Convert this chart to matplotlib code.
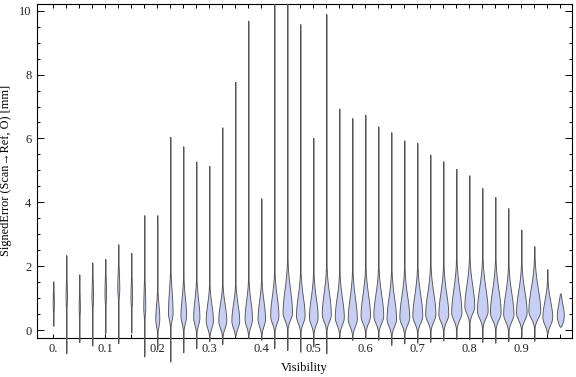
import numpy as np
import matplotlib
matplotlib.use("Agg")
import matplotlib.pyplot as plt

# violin positions (Visibility bins)
positions = np.arange(40) * 0.025

# values: lowest / highest point of each violin
lows = [0.13, -0.73, -0.38, -0.49, -0.10, -0.41, -0.08, -0.83, -0.60, -0.99,
        -0.70, -0.57, -0.35, -0.44, -0.18, -0.26, -0.31, -0.57, -0.63, -0.68,
        -0.52, -0.73, -0.21, -0.31, -0.26, -0.31, -0.47, -0.42, -0.40, -0.37,
        -0.33, -0.29, -0.29, -0.37, -0.40, -0.35, -0.21, -0.34, -0.13, 0.10]
highs = [1.53, 2.35, 1.75, 2.12, 2.23, 2.69, 2.42, 3.60, 3.60, 6.05,
         5.76, 5.28, 5.14, 6.35, 7.78, 9.69, 4.13, 10.21, 10.21, 9.58,
         6.02, 9.90, 6.94, 6.64, 6.75, 6.38, 6.20, 5.94, 5.87, 5.50,
         5.29, 5.05, 4.85, 4.45, 4.17, 3.82, 3.15, 2.63, 1.91, 1.15]
# where each violin is widest, how wide (px) and how far the bulge reaches up
modes = [0.80, 1.00, 0.70, 1.00, 1.10, 1.30, 1.00, 0.70, 0.35, 0.55,
         0.45, 0.40, 0.30, 0.30, 0.30, 0.35, 0.35, 0.45, 0.55, 0.45,
         0.40, 0.50, 0.40, 0.35, 0.45, 0.45, 0.35, 0.40, 0.45, 0.50,
         0.50, 0.55, 0.75, 0.60, 0.55, 0.50, 0.55, 0.60, 0.40, 0.45]
widths = [0.6, 0.7, 0.6, 0.8, 0.8, 1.0, 0.8, 1.0, 2.0, 2.3,
          2.8, 3.1, 3.6, 4.0, 3.9, 3.7, 3.7, 4.1, 4.7, 4.3,
          4.3, 4.5, 4.5, 4.5, 4.7, 4.9, 4.7, 4.9, 4.9, 5.1,
          4.9, 5.1, 4.9, 5.3, 5.3, 5.1, 5.3, 5.9, 4.9, 3.5]
spreads = [0.40, 0.50, 0.40, 0.50, 0.50, 0.50, 0.50, 0.60, 0.45, 0.65,
           0.55, 0.55, 0.50, 0.50, 0.50, 0.55, 0.55, 0.60, 0.70, 0.60,
           0.60, 0.65, 0.60, 0.65, 0.65, 0.65, 0.65, 0.65, 0.65, 0.65,
           0.65, 0.70, 0.65, 0.70, 0.70, 0.65, 0.65, 0.70, 0.50, 0.35]

xtick_vals = [0.0, 0.1, 0.2, 0.3, 0.4, 0.5, 0.6, 0.7, 0.8, 0.9]
xtick_labels = ["0.", "0.1", "0.2", "0.3", "0.4", "0.5", "0.6", "0.7", "0.8", "0.9"]

plt.rcParams['font.family'] = ['Liberation Serif', 'DejaVu Serif']

fig = plt.figure(figsize=(5.76, 3.77), dpi=100)
ax = fig.add_axes([37 / 576, 1 - 337.7 / 377, 535 / 576, 333.7 / 377])

xmin, xmax = -0.0313, 0.9975
px = (xmax - xmin) / 535.0  # data units per pixel horizontally

for p, lo, hi, c, hw, su in zip(positions, lows, highs, modes, widths, spreads):
    y = np.linspace(lo, hi, 600)
    s = np.where(y > c, su, 0.22)
    w = hw * np.exp(-0.5 * ((y - c) / s) ** 2)
    w = np.maximum(w, 0.3)
    taper = np.sqrt(np.clip((y - lo) / 0.06, 0, 1) * np.clip((hi - y) / 0.06, 0, 1))
    w = w * taper * px
    ax.fill_betweenx(y, p - w, p + w, facecolor='#c8cff4', edgecolor='#555555',
                     linewidth=0.65, clip_on=False, zorder=3)

ax.set_xlim(xmin, xmax)
ax.set_ylim(-0.24, 10.21)

ax.set_xticks(positions, minor=True)
ax.set_xticks(xtick_vals)
ax.set_xticklabels(xtick_labels)
ax.set_yticks(np.arange(0, 11, 2))
ax.set_yticks(np.arange(0, 10.3, 0.5), minor=True)

ax.tick_params(which='both', direction='in', top=True, right=True,
               color='black', width=0.7, labelsize=9, labelcolor='#222222')
ax.tick_params(axis='x', which='major', length=3, pad=4)
ax.tick_params(axis='x', which='minor', length=3)
ax.tick_params(axis='y', which='major', length=5, pad=4)
ax.tick_params(axis='y', which='minor', length=2.5)

for sp in ax.spines.values():
    sp.set_linewidth(0.8)

ax.set_xlabel('Visibility', fontsize=9, labelpad=5)
ax.set_ylabel('SignedError (Scan\u2192Ref, O) [mm]', fontsize=8.8, labelpad=5)

fig.savefig('out.png', dpi=100)
